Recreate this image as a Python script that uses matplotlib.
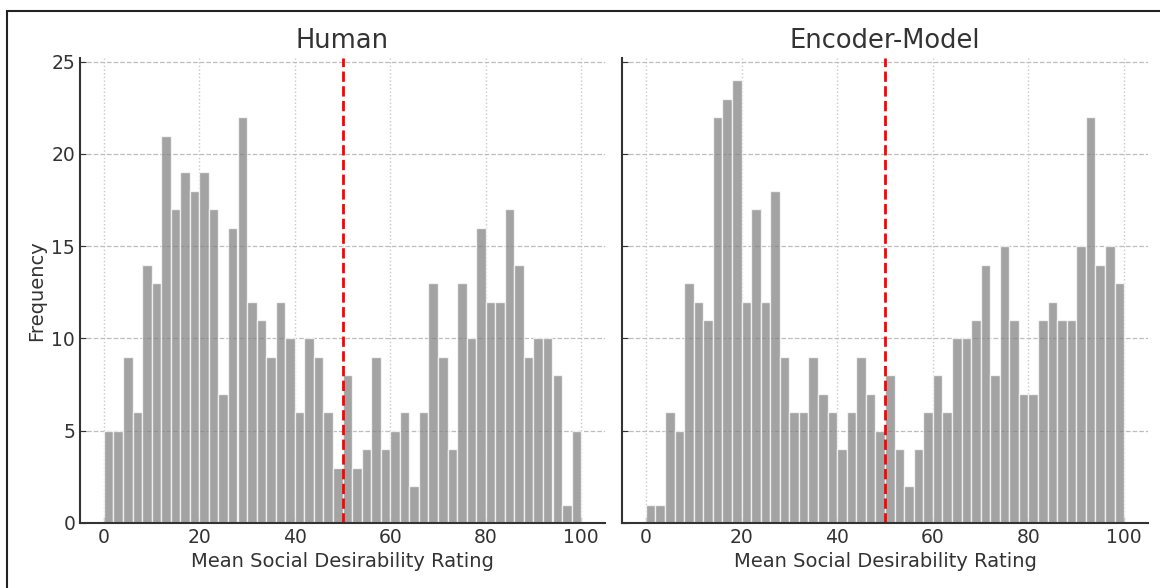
import matplotlib
matplotlib.use("Agg")
import matplotlib.pyplot as plt
import numpy as np

# histogram counts, 50 bins of width 2 over 0..100
bin_edges = np.arange(0, 101, 2)
human_counts = [5, 5, 9, 6, 14, 13, 21, 17, 19, 18, 19, 17, 7, 16, 22, 12, 11, 9, 12, 10,
                6, 10, 9, 6, 3, 8, 3, 4, 9, 4, 5, 6, 2, 6, 13, 9, 4, 13, 10, 16,
                12, 12, 17, 14, 9, 10, 10, 8, 1, 5]
encoder_counts = [1, 1, 6, 5, 13, 12, 11, 22, 23, 24, 12, 17, 12, 18, 9, 6, 6, 9, 7, 6,
                  4, 6, 9, 7, 5, 8, 4, 2, 4, 6, 8, 6, 10, 10, 11, 14, 8, 15, 11, 7,
                  7, 11, 12, 11, 11, 15, 22, 14, 15, 13]
titles = ["Human", "Encoder-Model"]
threshold = 50
x_ticks = [0, 20, 40, 60, 80, 100]
y_ticks = [0, 5, 10, 15, 20, 25]

fig = plt.figure(figsize=(11.6, 5.88), dpi=100)
ax1 = fig.add_axes([80 / 1160, 65 / 588, 525 / 1160, 465 / 588])
ax2 = fig.add_axes([622 / 1160, 65 / 588, 526 / 1160, 465 / 588], sharey=ax1)

# outer frame of the original figure
fig.add_artist(plt.Rectangle((7 / 1160, -0.1), 1.2, (588 - 11) / 588 + 0.1,
                             transform=fig.transFigure, fill=False,
                             edgecolor="#222222", linewidth=1.5))

for ax, counts, title in zip([ax1, ax2], [human_counts, encoder_counts], titles):
    ax.set_axisbelow(True)
    ax.yaxis.grid(True, linestyle="--", color="#bdbdbd", linewidth=0.9)
    ax.xaxis.grid(True, linestyle=":", color="#c8c8c8", linewidth=1.0)
    ax.bar(bin_edges[:-1], counts, width=2, align="edge", color="gray",
           alpha=0.72, edgecolor="white", linewidth=1.0)
    ax.axvline(threshold, color="red", linestyle="--", linewidth=2)
    ax.set_title(title, fontsize=18.5, color="#333333", pad=7)
    ax.set_xlabel("Mean Social Desirability Rating", fontsize=14, color="#333333")
    ax.set_xlim(-5, 105)
    ax.set_xticks(x_ticks)
    ax.set_yticks(y_ticks)
    for side in ["top", "right"]:
        ax.spines[side].set_visible(False)
    for side in ["left", "bottom"]:
        ax.spines[side].set_color("#333333")
        ax.spines[side].set_linewidth(1.5)
    ax.tick_params(direction="in", length=4, labelsize=13.5, colors="#333333")

ax1.set_ylim(0, 25.2)
ax1.set_ylabel("Frequency", fontsize=14, color="#333333")
ax2.tick_params(labelleft=False)

fig.savefig("out.png", dpi=100)
